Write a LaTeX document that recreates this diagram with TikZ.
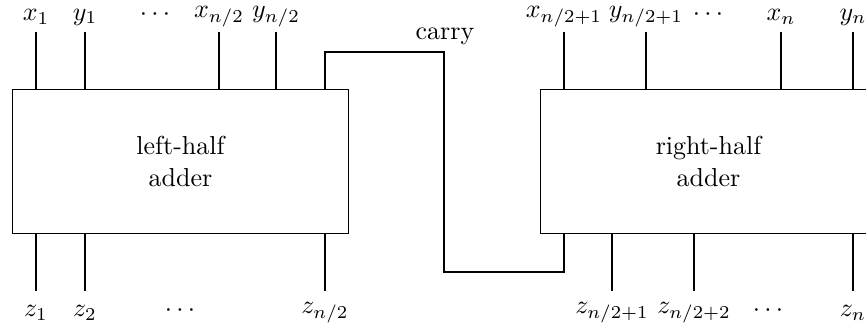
\documentclass[tikz,border=0pt]{standalone}
\begin{document}
\begin{tikzpicture}[x=0.385pt,y=-0.385pt,
  adder/.style={draw, rectangle, minimum width=129.7pt, minimum height=55.2pt, align=center, inner sep=0pt, line width=0.4pt},
  wire/.style={draw, line width=0.4pt},
  lbl/.style={inner sep=0pt}]
\useasboundingbox (0,0) rectangle (866,328);
\node[adder] (L) at (180.5,161.5) {left-half\\adder};
\node[adder] (R) at (708.5,161.5) {right-half\\adder};
% top inputs
\foreach \n/\x/\t in {x1/36/{$x_1$}, y1/85/{$y_1$}, xh/219/{$x_{n/2}$}, yh/276/{$y_{n/2}$}}{
  \node[lbl] (\n) at (\x,17) {\t};
  \draw[wire] (\n.center) ++(0,15) -- (\n |- L.north);
}
\foreach \n/\x/\t in {xa/564/{$x_{n/2+1}$}, ya/646/{$y_{n/2+1}$}, xn/781/{$x_n$}, yn/853/{$y_n$}}{
  \node[lbl] (\n) at (\x,17) {\t};
  \draw[wire] (\n.center) ++(0,15) -- (\n |- R.north);
}
\node[lbl] (dt1) at (155,15) {$\cdots$};
\node[lbl] (dt2) at (708,15) {$\cdots$};
% bottom outputs
\foreach \n/\x/\t in {z1/36/{$z_1$}, z2/85/{$z_2$}, zh/325/{$z_{n/2}$}}{
  \node[lbl] (\n) at (\x,313) {\t};
  \draw[wire] (\n.center) ++(0,-22) -- (\n |- L.south);
}
\foreach \n/\x/\t in {za/612/{$z_{n/2+1}$}, zb/694/{$z_{n/2+2}$}, zn/853/{$z_n$}}{
  \node[lbl] (\n) at (\x,313) {\t};
  \draw[wire] (\n.center) ++(0,-22) -- (\n |- R.south);
}
\node[lbl] (db1) at (180,311) {$\cdots$};
\node[lbl] (db2) at (768,311) {$\cdots$};
% carry
\coordinate (c1) at (325,52);
\coordinate (c2) at (444,272);
\coordinate (c3) at (564,272);
\draw[wire] (c1 |- L.north) -- (c1) -| (c2) -- (c3) -- (c3 |- R.south);
\node[lbl] (carry) at (445,36) {carry};
\end{tikzpicture}
\end{document}
